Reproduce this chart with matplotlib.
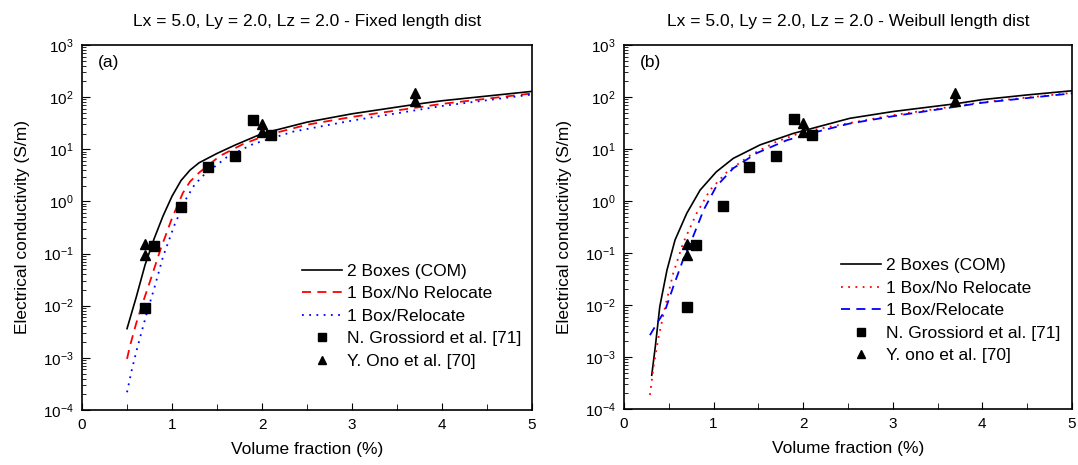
import numpy as np
import matplotlib
matplotlib.use("Agg")
import matplotlib.pyplot as plt
from matplotlib.ticker import LogLocator, MultipleLocator, NullFormatter

plt.rcParams["font.family"] = ["Liberation Sans", "DejaVu Sans"]
plt.rcParams["mathtext.fontset"] = "custom"
plt.rcParams["mathtext.rm"] = "Liberation Sans"

# experimental data (same in both panels)
gross_x = [0.7, 0.8, 1.1, 1.4, 1.7, 1.9, 2.1]
gross_y = [0.009, 0.14, 0.79, 4.6, 7.5, 37, 18.5]
ono_x = [0.7, 0.7, 2.0, 2.0, 3.7, 3.7]
ono_y = [0.15, 0.092, 31, 21, 120, 85]

# panel (a) - fixed length distribution, log10 of conductivity
a_com_x = [0.5, 0.6, 0.7, 0.8, 0.9, 1.0, 1.1, 1.2, 1.3, 1.5, 1.7, 2.0, 2.5, 3.0, 3.7, 4.0, 4.5, 5.0]
a_com_y = [-2.44, -1.85, -1.22, -0.72, -0.28, 0.1, 0.4, 0.6, 0.74, 0.92, 1.08, 1.3, 1.52, 1.68, 1.86, 1.93, 2.02, 2.11]
a_norel_x = [0.5, 0.53, 0.6, 0.66, 0.76, 0.87, 1.0, 1.12, 1.2, 1.3, 1.53, 1.79, 2.05, 2.5, 3.0, 4.0, 5.0]
a_norel_y = [-3.02, -2.79, -2.35, -2.02, -1.51, -0.93, -0.32, 0.16, 0.38, 0.55, 0.87, 1.1, 1.27, 1.47, 1.62, 1.87, 2.07]
a_rel_x = [0.5, 0.55, 0.615, 0.71, 0.81, 0.9, 1.03, 1.16, 1.25, 1.35, 1.61, 1.9, 2.35, 3.0, 4.0, 5.0]
a_rel_y = [-3.66, -3.25, -2.8, -2.2, -1.62, -1.06, -0.44, 0.06, 0.32, 0.5, 0.85, 1.1, 1.34, 1.55, 1.83, 2.05]

# panel (b) - Weibull length distribution
b_com_x = [0.31, 0.35, 0.4, 0.48, 0.57, 0.7, 0.85, 1.03, 1.22, 1.52, 1.89, 2.52, 3.0, 3.7, 4.0, 4.5, 5.0]
b_com_y = [-3.35, -2.8, -2.03, -1.33, -0.75, -0.24, 0.21, 0.56, 0.82, 1.08, 1.3, 1.59, 1.72, 1.87, 1.95, 2.04, 2.12]
b_norel_x = [0.29, 0.33, 0.38, 0.46, 0.55, 0.66, 0.81, 0.96, 1.15, 1.41, 1.7, 2.0, 2.49, 3.0, 4.0, 5.0]
b_norel_y = [-3.73, -3.19, -2.67, -2.03, -1.39, -0.81, -0.24, 0.21, 0.56, 0.88, 1.14, 1.33, 1.49, 1.65, 1.9, 2.08]
b_rel_x = [0.29, 0.38, 0.46, 0.55, 0.66, 0.77, 0.89, 1.03, 1.22, 1.48, 1.82, 2.15, 2.52, 3.0, 4.0, 5.0]
b_rel_y = [-2.58, -2.32, -2.1, -1.65, -1.13, -0.69, -0.17, 0.28, 0.63, 0.92, 1.17, 1.33, 1.49, 1.63, 1.89, 2.07]

fig = plt.figure(figsize=(10.78, 4.65), dpi=100)
ax_a = fig.add_axes([0.0761, 0.1183, 0.4174, 0.785])
ax_b = fig.add_axes([0.5788, 0.1204, 0.4156, 0.7828])


def style_axes(ax, tag, title):
    ax.set_yscale("log")
    ax.set_xlim(0, 5)
    ax.set_ylim(1e-4, 1e3)
    ax.xaxis.set_major_locator(MultipleLocator(1))
    ax.xaxis.set_minor_locator(MultipleLocator(0.5))
    ax.yaxis.set_major_locator(LogLocator(base=10, numticks=20))
    ax.yaxis.set_minor_locator(LogLocator(base=10, subs=np.arange(2, 10), numticks=20))
    ax.yaxis.set_minor_formatter(NullFormatter())
    ax.tick_params(which="both", direction="in", top=False, right=False, labelsize=11)
    ax.tick_params(axis="y", which="major", length=6, pad=6)
    ax.tick_params(axis="y", which="minor", length=3)
    ax.tick_params(axis="x", which="major", length=5, pad=6)
    ax.tick_params(axis="x", which="minor", length=4)
    for s in ax.spines.values():
        s.set_linewidth(1.2)
    ax.set_xlabel("Volume fraction (%)", fontsize=12.5, labelpad=7)
    ax.set_ylabel("Electrical conductivity (S/m)", fontsize=12.5, labelpad=9)
    ax.set_title(title, fontsize=12.5, pad=14)
    ax.text(0.036, 0.953, tag, transform=ax.transAxes, ha="left", va="center", fontsize=12.5)


def add_points(ax, ono_label):
    ax.plot(gross_x, gross_y, ls="none", marker="s", ms=6.5, color="black",
            label="N. Grossiord et al. [71]")
    ax.plot(ono_x, ono_y, ls="none", marker="^", ms=7.5, color="black", label=ono_label)


# Panel (a)
ax = ax_a
ax.plot(a_com_x, 10 ** np.array(a_com_y), color="black", lw=1.2, label="2 Boxes (COM)")
ax.plot(a_norel_x, 10 ** np.array(a_norel_y), color="red", lw=1.3, ls=(0, (5, 3.5)),
        label="1 Box/No Relocate")
ax.plot(a_rel_x, 10 ** np.array(a_rel_y), color="blue", lw=1.3, ls=(0, (1, 3)),
        label="1 Box/Relocate")
add_points(ax, "Y. Ono et al. [70]")
style_axes(ax, "(a)", "Lx = 5.0, Ly = 2.0, Lz = 2.0 - Fixed length dist")
ax.legend(loc="upper left", bbox_to_anchor=(0.47, 0.424), frameon=False, fontsize=12.5,
          handlelength=2.3, handletextpad=0.3, labelspacing=0.42, borderpad=0, markerscale=0.85)

# Panel (b)
ax = ax_b
ax.plot(b_com_x, 10 ** np.array(b_com_y), color="black", lw=1.2, label="2 Boxes (COM)")
ax.plot(b_norel_x, 10 ** np.array(b_norel_y), color="red", lw=1.3, ls=(0, (1, 3)),
        label="1 Box/No Relocate")
ax.plot(b_rel_x, 10 ** np.array(b_rel_y), color="blue", lw=1.3, ls=(0, (5, 3.5)),
        label="1 Box/Relocate")
add_points(ax, "Y. ono et al. [70]")
style_axes(ax, "(b)", "Lx = 5.0, Ly = 2.0, Lz = 2.0 - Weibull length dist")
ax.legend(loc="upper left", bbox_to_anchor=(0.465, 0.438), frameon=False, fontsize=12.5,
          handlelength=2.3, handletextpad=0.3, labelspacing=0.42, borderpad=0, markerscale=0.85)

fig.savefig("out.png", dpi=100)
